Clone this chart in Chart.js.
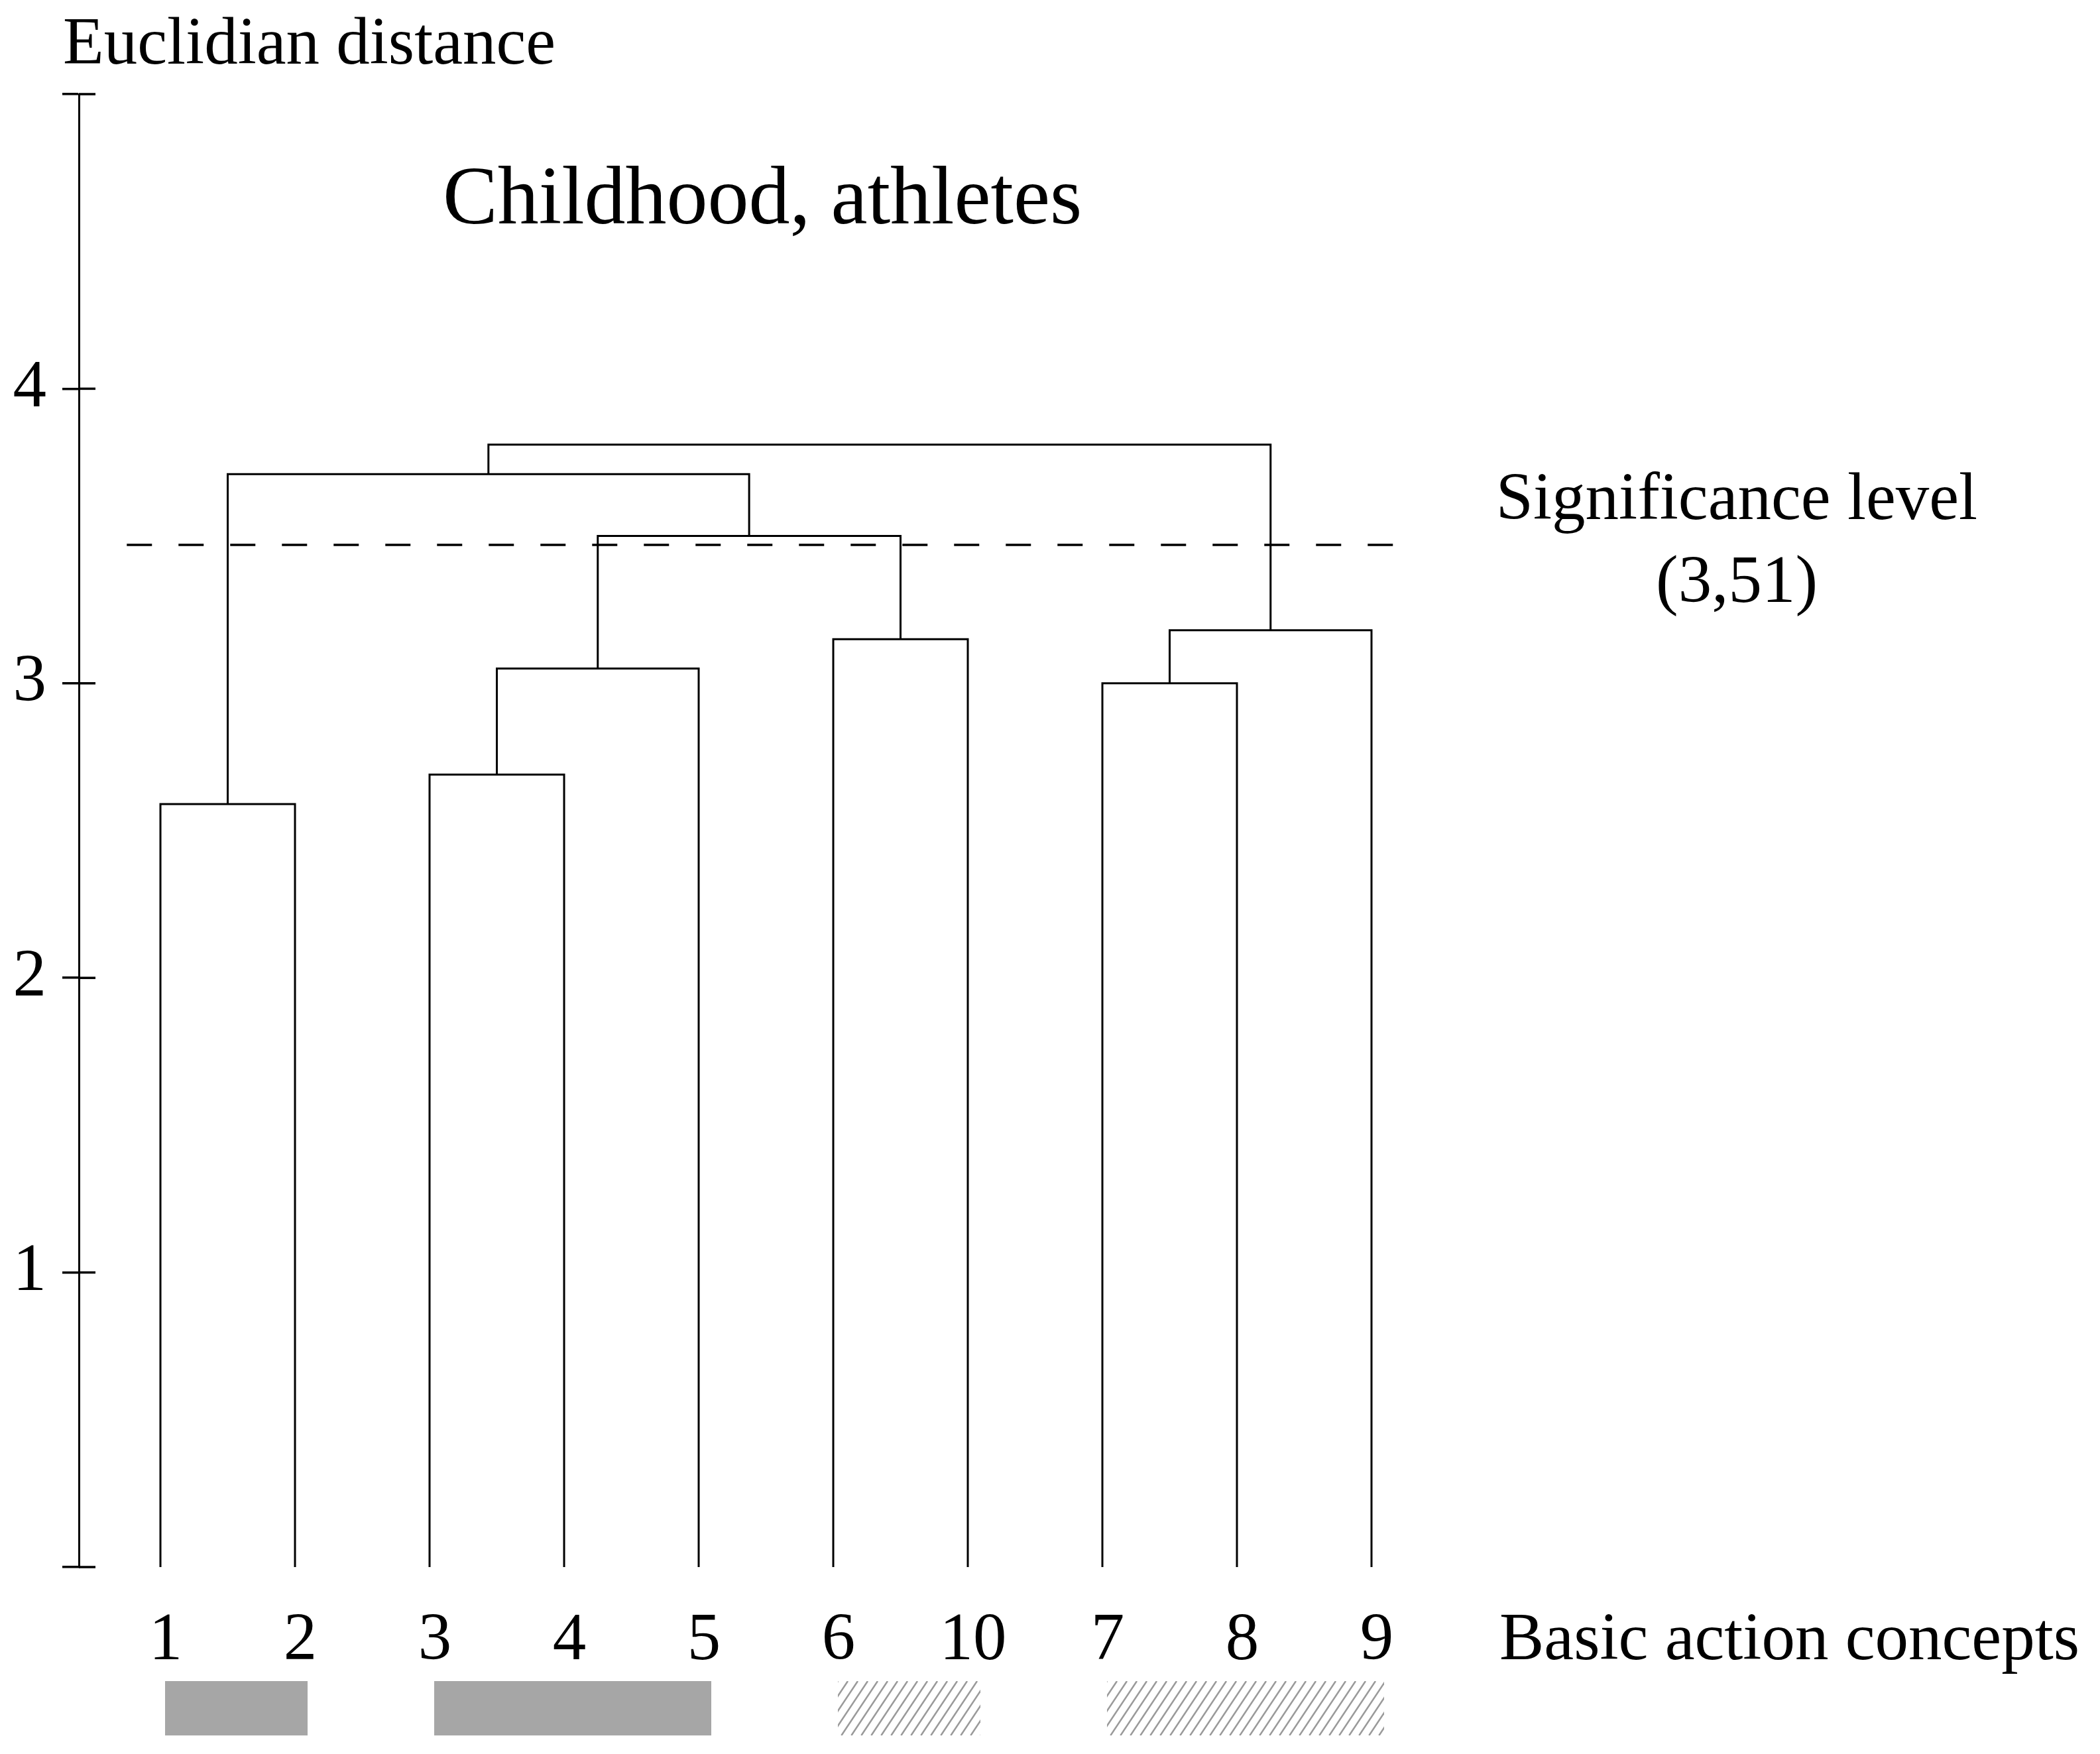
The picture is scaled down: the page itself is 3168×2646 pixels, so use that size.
<!DOCTYPE html>
<html>
<head>
<meta charset="utf-8">
<script src="https://cdn.jsdelivr.net/npm/chart.js@4.4.1/dist/chart.umd.min.js"></script>
<style>
  html, body { margin: 0; padding: 0; background: #fff; }
  canvas { display: block; }
</style>
</head>
<body>
<canvas id="dendroChart" width="3168" height="2646"></canvas>
<script>
// leaves in drawing order
const leafLabels = ['1', '2', '3', '4', '5', '6', '10', '7', '8', '9'];
// node 10+i joins mergeLeft[i] and mergeRight[i] at mergeHeight[i]
const mergeLeft   = [0, 2, 11, 5, 7, 14, 12, 10, 17];
const mergeRight  = [1, 3, 4, 6, 8, 9, 13, 16, 15];
const mergeHeight = [2.59, 2.69, 3.05, 3.15, 3.00, 3.18, 3.50, 3.71, 3.81];

const yTicks = [0, 1, 2, 3, 4, 5];
const yTickLabels = ['', '1', '2', '3', '4', ''];

const sigLine = 3.47;          // height of the dashed line as drawn
const sigText = ['Significance level', '(3,51)'];
const sigFrom = -0.25, sigTo = 9.25;

// groups marked under the leaf labels
const groupStart = [0, 2, 5, 7];
const groupEnd   = [1, 4, 6, 9];
const groupFill  = ['solid', 'solid', 'hatch', 'hatch'];

const FONT = "'Liberation Serif', 'Times New Roman', serif";

// node positions: leaves at their index, height 0
const nodeX = leafLabels.map((_, i) => i);
const nodeY = leafLabels.map(() => 0);
const linkSets = [];
mergeLeft.forEach((l, i) => {
    const r = mergeRight[i];
    const h = mergeHeight[i];
    linkSets.push({
        data: [
            { x: nodeX[l], y: nodeY[l] },
            { x: nodeX[l], y: h },
            { x: nodeX[r], y: h },
            { x: nodeX[r], y: nodeY[r] }
        ],
        showLine: true,
        borderColor: '#000',
        borderWidth: 3,
        pointRadius: 0,
        tension: 0
    });
    nodeX.push((nodeX[l] + nodeX[r]) / 2);
    nodeY.push(h);
});

linkSets.push({
    data: [{ x: sigFrom, y: sigLine }, { x: sigTo, y: sigLine }],
    showLine: true,
    borderColor: '#000',
    borderWidth: 3.5,
    borderDash: [38, 40],
    pointRadius: 0
});

const extrasPlugin = {
    id: 'extras',
    afterDraw(chart) {
        const { ctx, chartArea } = chart;
        const xs = chart.scales.x;
        const ys = chart.scales.y;
        ctx.save();

        // inner half of the axis ticks
        ctx.strokeStyle = '#000';
        ctx.lineWidth = 3.5;
        yTicks.forEach(v => {
            const py = ys.getPixelForValue(v);
            ctx.beginPath();
            ctx.moveTo(chartArea.left, py);
            ctx.lineTo(chartArea.left + 25, py);
            ctx.stroke();
        });

        ctx.fillStyle = '#000';
        ctx.textBaseline = 'alphabetic';

        ctx.font = '101px ' + FONT;
        ctx.textAlign = 'left';
        ctx.fillText('Euclidian distance', 95, 96);

        ctx.font = '124px ' + FONT;
        ctx.fillText('Childhood, athletes', 668, 337);

        ctx.font = '101px ' + FONT;
        ctx.textAlign = 'center';
        ctx.fillText(sigText[0], 2620, 783);
        ctx.fillText(sigText[1], 2620, 908);

        // leaf labels
        leafLabels.forEach((lab, i) => {
            ctx.fillText(lab, xs.getPixelForValue(i) + 8, 2503);
        });
        ctx.textAlign = 'left';
        ctx.fillText('Basic action concepts', 2262, 2503);

        // group boxes
        const top = 2536, hgt = 82;
        groupStart.forEach((s, g) => {
            const x0 = xs.getPixelForValue(s) + 7;
            const x1 = xs.getPixelForValue(groupEnd[g]) + 19;
            if (groupFill[g] === 'solid') {
                ctx.fillStyle = '#a6a6a6';
                ctx.fillRect(x0, top, x1 - x0, hgt);
            } else {
                ctx.save();
                ctx.beginPath();
                ctx.rect(x0, top, x1 - x0, hgt);
                ctx.clip();
                ctx.strokeStyle = '#9a9a9a';
                ctx.lineWidth = 2.5;
                const run = hgt / 1.5;
                for (let x = x0 - run; x < x1 + run; x += 15) {
                    ctx.beginPath();
                    ctx.moveTo(x, top + hgt);
                    ctx.lineTo(x + run, top);
                    ctx.stroke();
                }
                ctx.restore();
            }
        });
        ctx.restore();
    }
};

new Chart(document.getElementById('dendroChart').getContext('2d'), {
    type: 'scatter',
    data: { datasets: linkSets },
    options: {
        responsive: false,
        devicePixelRatio: 1,
        animation: false,
        layout: { padding: { top: 142, bottom: 282, left: 0, right: 287 } },
        plugins: {
            legend: { display: false },
            tooltip: { enabled: false }
        },
        scales: {
            x: {
                type: 'linear',
                display: false,
                min: -0.606,
                max: 13
            },
            y: {
                type: 'linear',
                min: 0,
                max: 5,
                afterFit(scale) { scale.width = 119; },
                afterBuildTicks(scale) {
                    scale.ticks = yTicks.map(v => ({ value: v }));
                },
                ticks: {
                    callback: (v, i) => yTickLabels[i],
                    color: '#000',
                    padding: 24,
                    font: { family: FONT, size: 101 }
                },
                grid: {
                    drawOnChartArea: false,
                    drawTicks: true,
                    tickLength: 25,
                    color: '#000',
                    lineWidth: 3.5
                },
                border: { display: true, color: '#000', width: 3 }
            }
        }
    },
    plugins: [extrasPlugin]
});
</script>
</body>
</html>
